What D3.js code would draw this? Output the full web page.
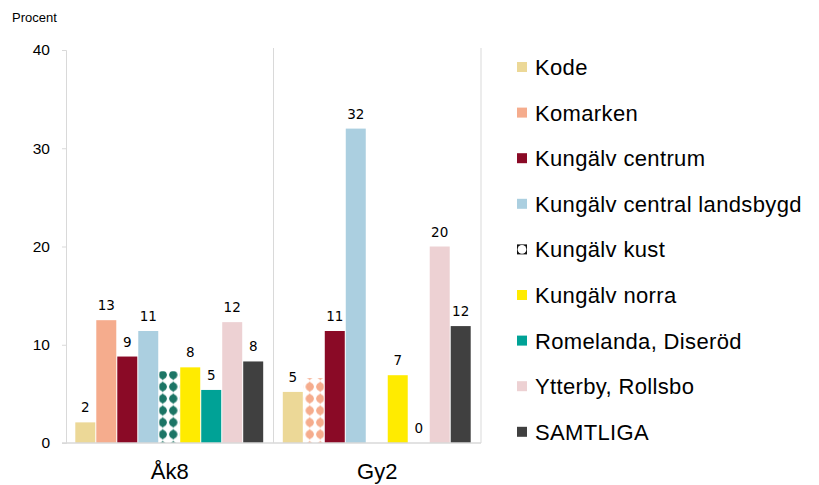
<!DOCTYPE html>
<html>
<head>
<meta charset="utf-8">
<script src="https://cdn.jsdelivr.net/npm/d3@7"></script>
<style>
  body { margin: 0; background: #fff; }
  svg text { fill: #000; }
</style>
</head>
<body>
<div id="chart"></div>
<script>
/**
 * DATA
 * */
const categories = ["Åk8", "Gy2"];
const seriesNames = ["Kode", "Komarken", "Kungälv centrum", "Kungälv central landsbygd",
  "Kungälv kust", "Kungälv norra", "Romelanda, Diseröd", "Ytterby, Rollsbo", "SAMTLIGA"];
const seriesColors = ["#ecd897", "#f5ac8d", "#8a0a26", "#abcfe0", "#1c7565",
  "#ffeb00", "#00a296", "#edd1d3", "#404040"];
// null = no bar; patterned bars have no value label
const valuesAk8 = [2.1, 12.5, 8.8, 11.4, 7.3, 7.7, 5.4, 12.3, 8.3];
const valuesGy2 = [5.2, 6.6, 11.4, 32.0, null, 6.9, 0, 20.0, 11.9];
const patternAk8 = [false, false, false, false, true, false, false, false, false];
const patternGy2 = [false, true, false, false, false, false, false, false, false];
const yTicks = [0, 10, 20, 30, 40];

/**
 * CONSTANTS
 * */
const width = 819, height = 485;
const plot = { left: 66, right: 481, top: 50, bottom: 443 };

const rows = [];
categories.forEach((c, ci) => {
  const vals = ci === 0 ? valuesAk8 : valuesGy2;
  const pats = ci === 0 ? patternAk8 : patternGy2;
  seriesNames.forEach((s, si) => {
    rows.push({ cat: c, series: s, si, value: vals[si], pattern: pats[si] });
  });
});

const svg = d3.select("#chart").append("svg")
  .attr("width", width).attr("height", height);

// patterns (one per series colour)
const defs = svg.append("defs");
seriesColors.forEach((col, i) => {
  const p = defs.append("pattern")
    .attr("id", "pat" + i)
    .attr("patternUnits", "userSpaceOnUse")
    .attr("width", 10.5).attr("height", 11.9);
  p.append("circle").attr("cx", 5.25).attr("cy", 5.95).attr("r", 4).attr("fill", col);
  p.append("path")
    .attr("d", "M5.25,0.6 L6.5,2 L9.5,5.95 L6.5,9.9 L5.25,11.3 L4,9.9 L1,5.95 L4,2 Z")
    .attr("fill", col);
});

// SCALES
const xScale = d3.scaleBand().domain(categories).range([plot.left, plot.right]);
const xInner = d3.scaleBand().domain(seriesNames)
  .range([9.3, xScale.bandwidth() - 9.3]);
const yScale = d3.scaleLinear().domain([0, 40]).range([plot.bottom, plot.top]);

// y axis
const yAxis = d3.axisLeft(yScale).tickValues(yTicks).tickSize(4).tickPadding(12);
const yg = svg.append("g")
  .attr("transform", `translate(${plot.left},0)`)
  .call(yAxis);
yg.select(".domain").attr("stroke", "#d9d9d9");
yg.selectAll(".tick line").attr("stroke", "#d9d9d9");
yg.selectAll(".tick text")
  .attr("font-family", "Liberation Sans, Arial, sans-serif")
  .attr("font-size", 15.5).attr("fill", "#000");

svg.append("text")
  .attr("x", 12).attr("y", 22)
  .attr("font-family", "Liberation Sans, Arial, sans-serif")
  .attr("font-size", 13)
  .text("Procent");

// category separators
const bounds = [xScale(categories[1]), plot.right];
svg.selectAll("line.sep")
  .data(bounds)
  .join("line")
  .attr("class", "sep")
  .attr("x1", d => d).attr("x2", d => d)
  .attr("y1", plot.top - 2).attr("y2", plot.bottom)
  .attr("stroke", "#d9d9d9");

// bars
const barW = xInner.bandwidth() - 1;
svg.selectAll("rect.bar")
  .data(rows.filter(d => d.value !== null && d.value > 0))
  .join("rect")
  .attr("class", "bar")
  .attr("x", d => xScale(d.cat) + xInner(d.series))
  .attr("y", d => yScale(d.value))
  .attr("width", barW)
  .attr("height", d => yScale(0) - yScale(d.value))
  .attr("fill", d => d.pattern ? `url(#pat${d.si})` : seriesColors[d.si]);

// baseline
svg.append("line")
  .attr("x1", plot.left - 4).attr("x2", plot.right)
  .attr("y1", plot.bottom).attr("y2", plot.bottom)
  .attr("stroke", "#d9d9d9").attr("stroke-width", 1.5);

// value labels
svg.selectAll("text.val")
  .data(rows.filter(d => d.value !== null && !d.pattern))
  .join("text")
  .attr("class", "val")
  .attr("x", d => xScale(d.cat) + xInner(d.series) + barW / 2)
  .attr("y", d => yScale(d.value) - 10)
  .attr("text-anchor", "middle")
  .attr("font-family", "DejaVu Sans, Verdana, sans-serif")
  .attr("font-size", 13.5)
  .text(d => Math.round(d.value));

// category labels
svg.selectAll("text.cat")
  .data(categories)
  .join("text")
  .attr("class", "cat")
  .attr("x", d => xScale(d) + xScale.bandwidth() / 2)
  .attr("y", 479)
  .attr("text-anchor", "middle")
  .attr("font-family", "Liberation Sans, Arial, sans-serif")
  .attr("font-size", 22)
  .text(d => d);

// legend
const legend = svg.append("g").attr("transform", "translate(517,0)");
const leg = legend.selectAll("g.item")
  .data(seriesNames)
  .join("g")
  .attr("class", "item")
  .attr("transform", (d, i) => `translate(0,${67 + i * 45.6})`);

leg.append("rect")
  .attr("x", 0).attr("y", -5).attr("width", 10).attr("height", 10)
  .attr("fill", (d, i) => i === 4 ? "#111" : seriesColors[i]);
leg.filter((d, i) => i === 4).append("circle")
  .attr("cx", 5).attr("cy", 0).attr("r", 4.4).attr("fill", "#fff");

leg.append("text")
  .attr("x", 18).attr("y", 8)
  .attr("font-family", "Liberation Sans, Arial, sans-serif")
  .attr("font-size", 22)
  .attr("letter-spacing", 0.35)
  .text(d => d);
</script>
</body>
</html>
